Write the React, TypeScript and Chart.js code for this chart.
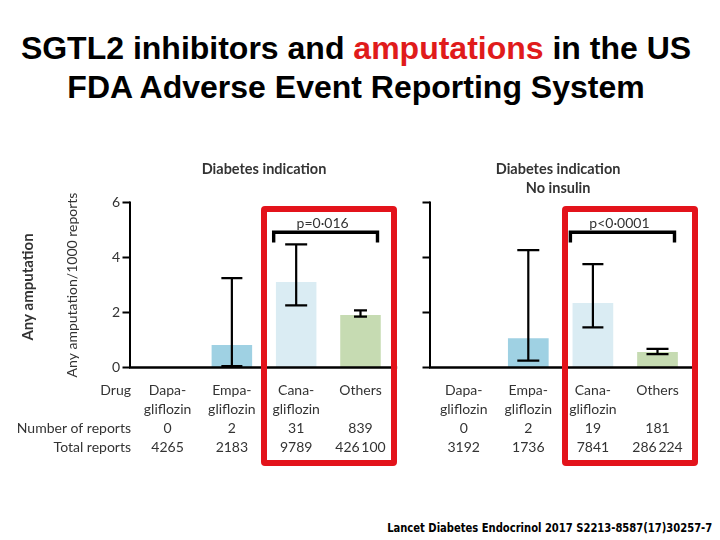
import React, { useEffect, useRef } from "react";
import { Chart, registerables } from "chart.js";

Chart.register(...registerables);

// ---------- data ----------
const drugNames: string[][] = [
  ["Dapa-", "gliflozin"],
  ["Empa-", "gliflozin"],
  ["Cana-", "gliflozin"],
  ["Others", ""],
];
const yTickValues = [0, 2, 4, 6];
const rowHeaders = ["Drug", "", "Number of reports", "Total reports"];

// Panel 1: Diabetes indication
const diabetesTitle = ["Diabetes indication"];
const diabetesRate = [0, 0.82, 3.11, 1.91];
const diabetesLow: (number | null)[] = [null, 0.05, 2.26, 1.85];
const diabetesHigh: (number | null)[] = [null, 3.25, 4.48, 2.08];
const diabetesCount = [0, 2, 31, 839];
const diabetesTotal = [4265, 2183, 9789, 426100];
const diabetesP = "p=0\u00B7016";

// Panel 2: Diabetes indication, no insulin
const noInsulinTitle = ["Diabetes indication", "No insulin"];
const noInsulinRate = [0, 1.06, 2.35, 0.56];
const noInsulinLow: (number | null)[] = [null, 0.25, 1.46, 0.49];
const noInsulinHigh: (number | null)[] = [null, 4.27, 3.76, 0.68];
const noInsulinCount = [0, 2, 19, 181];
const noInsulinTotal = [3192, 1736, 7841, 286224];
const noInsulinP = "p<0\u00B70001";

// ---------- style ----------
const FONT = "Lato, 'Open Sans', sans-serif";
const TEXT = "#333333";
const barColors = ["rgba(0,0,0,0)", "#9fd1e3", "#daecf3", "#c6dbb2"];
const LINE_H = 19;
const TICK_PAD = 13.5;

const fmtTotal = (n: number) =>
  n >= 10000 ? String(n).replace(/\B(?=(\d{3})+(?!\d))/g, "\u2009") : String(n);

type PanelCfg = {
  left: number;
  top: number;
  width: number;
  height: number;
  areaLeft: number;
  areaRight: number;
  areaTop: number;
  areaBottom: number;
  axisGap: number;
  showYLabels: boolean;
  title: string[];
  rate: number[];
  low: (number | null)[];
  high: (number | null)[];
  count: number[];
  total: number[];
  pText: string;
  capWidths: number[];
};

const panels: PanelCfg[] = [
  {
    left: 0,
    top: 150,
    width: 400,
    height: 320,
    areaLeft: 135.4,
    areaRight: 393.8,
    areaTop: 52.5,
    areaBottom: 217.5,
    axisGap: 5.4,
    showYLabels: true,
    title: diabetesTitle,
    rate: diabetesRate,
    low: diabetesLow,
    high: diabetesHigh,
    count: diabetesCount,
    total: diabetesTotal,
    pText: diabetesP,
    capWidths: [0, 21, 22, 13],
  },
  {
    left: 400,
    top: 150,
    width: 320,
    height: 320,
    areaLeft: 31.4,
    areaRight: 289.8,
    areaTop: 52.5,
    areaBottom: 217.5,
    axisGap: 1.4,
    showYLabels: false,
    title: noInsulinTitle,
    rate: noInsulinRate,
    low: noInsulinLow,
    high: noInsulinHigh,
    count: noInsulinCount,
    total: noInsulinTotal,
    pText: noInsulinP,
    capWidths: [0, 22, 21, 22],
  },
];

function makeDecor(cfg: PanelCfg) {
  return {
    id: "panelDecor",
    afterDatasetsDraw(chart: any) {
      const { ctx, chartArea, scales } = chart;
      const x = scales.x;
      const y = scales.y;
      ctx.save();
      ctx.strokeStyle = "#000";
      ctx.lineCap = "butt";

      const ax = chartArea.left - cfg.axisGap;
      const y0 = y.getPixelForValue(0);
      const yTop = y.getPixelForValue(yTickValues[yTickValues.length - 1]);

      // y axis line
      ctx.lineWidth = 2;
      ctx.beginPath();
      ctx.moveTo(ax, yTop - 1);
      ctx.lineTo(ax, y0);
      ctx.stroke();
      // y tick marks
      ctx.beginPath();
      yTickValues.forEach((v) => {
        const py = y.getPixelForValue(v);
        ctx.moveTo(ax - 7.5, py);
        ctx.lineTo(ax, py);
      });
      ctx.stroke();
      // baseline
      ctx.lineWidth = 2.6;
      ctx.beginPath();
      ctx.moveTo(ax - 1, y0);
      ctx.lineTo(chartArea.right + 4.5, y0);
      ctx.stroke();

      // error bars
      ctx.lineWidth = 2.2;
      cfg.rate.forEach((_, i) => {
        const lo = cfg.low[i];
        const hi = cfg.high[i];
        if (lo == null || hi == null) return;
        const px = x.getPixelForValue(i);
        const pl = y.getPixelForValue(lo);
        const ph = y.getPixelForValue(hi);
        const hw = cfg.capWidths[i] / 2;
        ctx.beginPath();
        ctx.moveTo(px, pl);
        ctx.lineTo(px, ph);
        ctx.moveTo(px - hw, ph);
        ctx.lineTo(px + hw, ph);
        ctx.moveTo(px - hw, pl);
        ctx.lineTo(px + hw, pl);
        ctx.stroke();
      });

      // comparison bracket between Cana- and Others
      const bx1 = x.getPixelForValue(2) - 22.5;
      const bx2 = x.getPixelForValue(3) + 17;
      const by = y.getPixelForValue(4.92);
      const byEnd = y.getPixelForValue(4.55);
      ctx.lineWidth = 3.4;
      ctx.beginPath();
      ctx.moveTo(bx1, byEnd);
      ctx.lineTo(bx1, by);
      ctx.lineTo(bx2, by);
      ctx.lineTo(bx2, byEnd);
      ctx.stroke();

      ctx.fillStyle = TEXT;
      ctx.font = `400 14px ${FONT}`;
      ctx.textAlign = "center";
      ctx.textBaseline = "middle";
      ctx.fillText(cfg.pText, (bx1 + bx2) / 2 - 3, y.getPixelForValue(5.25));

      // panel title
      ctx.font = `700 14.5px ${FONT}`;
      const cx = (chartArea.left + chartArea.right) / 2 - (cfg.showYLabels ? 0 : 2.5);
      cfg.title.forEach((t, i) => {
        ctx.fillText(t, cx, chartArea.top - 33.5 + 19 * i);
      });

      if (cfg.showYLabels) {
        ctx.font = `400 14px ${FONT}`;
        ctx.textAlign = "right";
        rowHeaders.forEach((h, i) => {
          if (!h) return;
          ctx.fillText(h, chartArea.left - 4.4, chartArea.bottom + TICK_PAD + LINE_H * (i + 0.5));
        });
        ctx.save();
        ctx.translate(28, (chartArea.top + chartArea.bottom) / 2 + 2);
        ctx.rotate(-Math.PI / 2);
        ctx.textAlign = "center";
        ctx.font = `700 15px ${FONT}`;
        ctx.fillStyle = TEXT;
        ctx.fillText("Any amputation", 0, 0);
        ctx.restore();
      }
      ctx.restore();
    },
  };
}

function Panel({ cfg }: { cfg: PanelCfg }) {
  const ref = useRef<HTMLCanvasElement | null>(null);
  useEffect(() => {
    if (!ref.current) return;
    const labels = drugNames.map((n, i) => [
      n[0],
      n[1],
      String(cfg.count[i]),
      fmtTotal(cfg.total[i]),
    ]);
    const chart = new Chart(ref.current, {
      type: "bar",
      data: {
        labels,
        datasets: [
          {
            data: cfg.rate,
            backgroundColor: barColors,
            borderWidth: 0,
            barPercentage: 0.63,
            categoryPercentage: 1,
          },
        ],
      },
      options: {
        responsive: false,
        animation: false,
        devicePixelRatio: 1,
        layout: {
          padding: {
            left: 0,
            top: cfg.areaTop,
            right: cfg.width - cfg.areaRight,
            bottom: 0,
          },
        },
        plugins: {
          legend: { display: false },
          tooltip: { enabled: false },
          title: { display: false },
        },
        scales: {
          x: {
            type: "category",
            offset: true,
            grid: { display: false, drawTicks: false },
            border: { display: false },
            ticks: {
              autoSkip: false,
              maxRotation: 0,
              minRotation: 0,
              padding: TICK_PAD,
              color: TEXT,
              font: { family: FONT, size: 14, lineHeight: LINE_H / 14 },
            },
            afterFit: (s: any) => {
              s.height = cfg.height - cfg.areaBottom;
            },
          },
          y: {
            min: 0,
            max: 6,
            grid: { display: false, drawTicks: false },
            border: { display: false },
            ticks: {
              display: cfg.showYLabels,
              stepSize: 2,
              padding: cfg.areaLeft - 120,
              color: TEXT,
              font: { family: FONT, size: 14 },
            },
            title: {
              display: cfg.showYLabels,
              text: "Any amputation/1000 reports",
              color: TEXT,
              font: { family: FONT, size: 14, lineHeight: 1.2 },
              padding: { top: 63.6, bottom: 0 },
            },
            afterFit: (s: any) => {
              s.width = cfg.areaLeft;
            },
          },
        },
      },
      plugins: [makeDecor(cfg)],
    } as any);
    return () => chart.destroy();
  }, [cfg]);
  return (
    <div
      style={{
        position: "absolute",
        left: cfg.left,
        top: cfg.top,
        width: cfg.width,
        height: cfg.height,
      }}
    >
      <canvas ref={ref} width={cfg.width} height={cfg.height} style={{ display: "block" }} />
    </div>
  );
}

const redBox = (left: number): React.CSSProperties => ({
  position: "absolute",
  left,
  top: 206,
  width: 136,
  height: 260,
  border: "6px solid #e3131b",
  borderRadius: 4,
  boxSizing: "border-box",
  zIndex: 2,
});

export default function App() {
  return (
    <div
      style={{
        position: "absolute",
        left: 0,
        top: 0,
        width: 720,
        height: 540,
        background: "#fff",
        overflow: "hidden",
      }}
    >
      <div
        style={{
          position: "absolute",
          left: 0,
          top: 28.5,
          width: 712,
          textAlign: "center",
          fontFamily: "'Liberation Sans', Arial, sans-serif",
          fontWeight: 700,
          fontSize: 32,
          lineHeight: "39px",
          color: "#000",
        }}
      >
        SGTL2 inhibitors and <span style={{ color: "#e01b1b" }}>amputations</span> in the US
        <br />
        FDA Adverse Event Reporting System
      </div>
      {panels.map((p, i) => (
        <Panel key={i} cfg={p} />
      ))}
      <div style={redBox(261)} />
      <div style={redBox(562)} />
      <div
        style={{
          position: "absolute",
          right: 8,
          top: 520,
          fontFamily: "'DejaVu Sans Condensed', 'DejaVu Sans', sans-serif",
          fontWeight: 700,
          fontSize: 13,
          lineHeight: "16px",
          color: "#000",
          whiteSpace: "nowrap",
          transform: "scaleX(0.855)",
          transformOrigin: "right center",
        }}
      >
        Lancet Diabetes Endocrinol 2017 S2213-8587(17)30257-7
      </div>
    </div>
  );
}
